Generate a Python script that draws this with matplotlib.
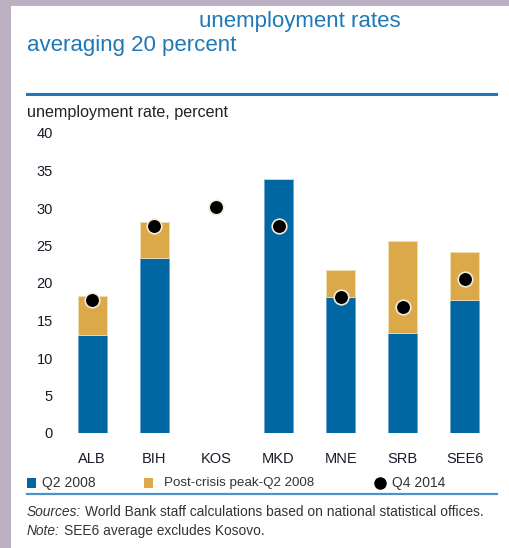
import numpy as np
import matplotlib.pyplot as plt
from matplotlib.patches import Rectangle
from matplotlib.lines import Line2D

# data
countries = ['ALB', 'BIH', 'KOS', 'MKD', 'MNE', 'SRB', 'SEE6']
q2_2008 = [13.1, 23.4, 0.0, 33.9, 18.2, 13.3, 17.8]
peak_minus_q2 = [5.2, 4.7, 0.0, 0.0, 3.5, 12.3, 6.3]
q4_2014 = [17.7, 27.6, 30.1, 27.6, 18.1, 16.8, 20.5]
yticks = [0, 5, 10, 15, 20, 25, 30, 35, 40]

W, H = 510, 548
BLUE = '#0067a3'
GOLD = '#dba94a'
TXTBLUE = '#1f78b8'
GREY = '#333333'

plt.rcParams['font.family'] = ['Liberation Sans', 'DejaVu Sans']

fig = plt.figure(figsize=(W / 100, H / 100), dpi=100)
fig.patch.set_facecolor('#bcb0c3')

def fx(px):
    return px / W

def fy(py):
    return 1 - py / H

# white panel
fig.add_artist(Rectangle((fx(11), 0), 1 - fx(11), fy(6), transform=fig.transFigure,
                         facecolor='white', edgecolor='none', zorder=0))

# title
fig.text(fx(199), fy(21), 'unemployment rates', color=TXTBLUE, fontsize=16, va='center')
fig.text(fx(27), fy(46), 'averaging 20 percent', color=TXTBLUE, fontsize=16, va='center')
fig.add_artist(Line2D([fx(27), fx(496)], [fy(94), fy(94)], transform=fig.transFigure,
                      color='#1f78b8', lw=2.2))
fig.text(fx(27), fy(112), 'unemployment rate, percent', color='#222222', fontsize=11.6, va='center')

# plot area
ax = fig.add_axes([fx(55), fy(433), fx(502) - fx(55), fy(133) - fy(433)])
x = np.arange(len(countries))
ax.bar(x, q2_2008, width=0.47, color=BLUE, edgecolor='#6fa6cf', linewidth=0.6)
ax.bar(x, peak_minus_q2, width=0.47, bottom=q2_2008, color=GOLD, edgecolor='#f1dfb5', linewidth=0.6)
ax.scatter(x, q4_2014, s=110, color='black', edgecolor='#f3ead8', linewidth=1.2, zorder=3)

ax.set_xlim(-0.6, 6.6)
ax.set_ylim(0, 40)
ax.set_yticks(yticks)
ax.set_xticks(x)
ax.set_xticklabels(countries)
for s in ax.spines.values():
    s.set_visible(False)
ax.tick_params(length=0)
ax.tick_params(axis='y', pad=1.5)
ax.tick_params(axis='x', pad=14)
for lab in ax.get_yticklabels() + ax.get_xticklabels():
    lab.set_fontsize(10.5)
    lab.set_color('#1a1a2a')

# legend
fig.add_artist(Rectangle((fx(27), fy(488)), fx(9), 10 / H, transform=fig.transFigure,
                         facecolor=BLUE, edgecolor='none'))
fig.text(fx(42), fy(483), 'Q2 2008', color=GREY, fontsize=10, va='center')
fig.add_artist(Rectangle((fx(144), fy(488)), fx(9), 10 / H, transform=fig.transFigure,
                         facecolor=GOLD, edgecolor='none'))
fig.text(fx(164), fy(483), 'Post-crisis peak-Q2 2008', color=GREY, fontsize=9.6, va='center')
fig.add_artist(Line2D([fx(380)], [fy(483)], transform=fig.transFigure, marker='o',
                      markersize=8, color='black', linestyle='none'))
fig.text(fx(392), fy(483), 'Q4 2014', color=GREY, fontsize=10, va='center')
fig.add_artist(Line2D([fx(27), fx(497)], [fy(494), fy(494)], transform=fig.transFigure,
                      color='#4d93c8', lw=1.6))

# notes: italic lead-in, then the rest placed right after it
renderer = fig.canvas.get_renderer()
for py, lead, rest in [(512, 'Sources:', 'World Bank staff calculations based on national statistical offices.'),
                       (531, 'Note:', 'SEE6 average excludes Kosovo.')]:
    t = fig.text(fx(27), fy(py), lead, style='italic', color=GREY, fontsize=9.9, va='center')
    bb = t.get_window_extent(renderer)
    fig.text(fx(bb.x1 + 4), fy(py), rest, color=GREY, fontsize=9.9, va='center')

fig.savefig('out.png', dpi=100, facecolor=fig.get_facecolor())
